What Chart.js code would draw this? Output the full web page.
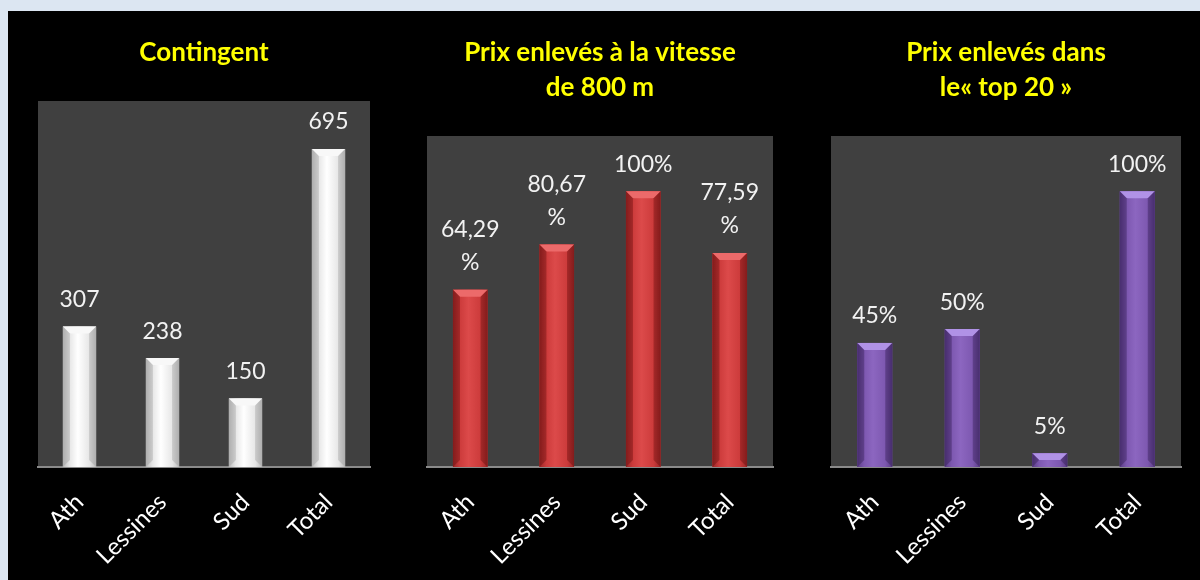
<!DOCTYPE html>
<html>
<head>
<meta charset="utf-8">
<script src="https://cdn.jsdelivr.net/npm/chart.js@4/dist/chart.umd.min.js"></script>
<style>
  html, body { margin: 0; padding: 0; }
  body { width: 1200px; height: 580px; background: #dce6f2; position: relative; overflow: hidden; }
  #fond { position: absolute; left: 8px; top: 11px; width: 1192px; height: 569px; background: #000; }
  .panneau { position: absolute; top: 11px; height: 569px; }
</style>
</head>
<body>
<div id="fond"></div>
<div class="panneau" style="left:8px;width:395px"><canvas id="graphContingent"></canvas></div>
<div class="panneau" style="left:403px;width:397px"><canvas id="graphVitesse"></canvas></div>
<div class="panneau" style="left:800px;width:400px"><canvas id="graphTop20"></canvas></div>
<script>
// Données
const categories = ['Ath', 'Lessines', 'Sud', 'Total'];
const contingent = [307, 238, 150, 695];
const vitesse800 = [64.29, 80.67, 100, 77.59];
const top20 = [45, 50, 5, 100];

const titreContingent = ['Contingent'];
const titreVitesse = ['Prix enlevés à la vitesse', 'de 800 m'];
const titreTop20 = ['Prix enlevés dans', 'le« top 20 »'];

const POLICE = 'Lato, "Open Sans", sans-serif';

// Formatage des étiquettes (virgule décimale, retour à la ligne comme dans Excel)
function formatNombre(v) {
    return [String(v)];
}
function formatPourcent(v) {
    if (Number.isInteger(v)) return [v + '%'];
    return [v.toFixed(2).replace('.', ','), '%'];
}

// Fond gris de la zone de tracé
const fondZone = {
    id: 'fondZone',
    beforeDraw(chart) {
        const { ctx, chartArea: a } = chart;
        ctx.save();
        ctx.fillStyle = '#404040';
        ctx.fillRect(a.left, a.top, a.right - a.left, a.bottom - a.top);
        ctx.restore();
    }
};

// Effet biseau sur les barres + étiquettes de valeurs
const biseau = {
    id: 'biseau',
    afterDatasetsDraw(chart) {
        const ctx = chart.ctx;
        const ds = chart.data.datasets[0];
        const c = ds.teintes;
        const meta = chart.getDatasetMeta(0);
        meta.data.forEach((bar, i) => {
            const w = bar.width;
            const g = bar.x - w / 2, d = bar.x + w / 2;
            const haut = bar.y, bas = bar.base;
            const b = Math.min(7, (bas - haut) / 2);
            ctx.save();
            const grad = ctx.createLinearGradient(g, 0, d, 0);
            grad.addColorStop(0, c.bord);
            grad.addColorStop(0.2, c.base);
            grad.addColorStop(0.45, c.clair);
            grad.addColorStop(0.8, c.base);
            grad.addColorStop(1, c.bord);
            ctx.fillStyle = grad;
            ctx.fillRect(g, haut, w, bas - haut);
            // biseau du haut
            ctx.fillStyle = c.dessus;
            ctx.beginPath();
            ctx.moveTo(g, haut); ctx.lineTo(d, haut);
            ctx.lineTo(d - b, haut + b); ctx.lineTo(g + b, haut + b);
            ctx.closePath(); ctx.fill();
            // côtés
            ctx.fillStyle = c.cote;
            ctx.beginPath();
            ctx.moveTo(g, haut); ctx.lineTo(g + b, haut + b);
            ctx.lineTo(g + b, bas - b); ctx.lineTo(g, bas);
            ctx.closePath(); ctx.fill();
            ctx.beginPath();
            ctx.moveTo(d, haut); ctx.lineTo(d - b, haut + b);
            ctx.lineTo(d - b, bas - b); ctx.lineTo(d, bas);
            ctx.closePath(); ctx.fill();
            // étiquette
            const lignes = ds.formateur(ds.data[i]);
            ctx.fillStyle = '#f2f2f2';
            ctx.font = '23px ' + POLICE;
            ctx.textAlign = 'center';
            ctx.textBaseline = 'middle';
            lignes.forEach((t, k) => {
                const y = haut - 27 - (lignes.length - 1 - k) * 33;
                ctx.fillText(t, bar.x, y);
            });
            ctx.restore();
        });
    }
};

function creerGraphique(id, titre, valeurs, teintes, yMax, formateur, pad) {
    const ctx = document.getElementById(id).getContext('2d');
    return new Chart(ctx, {
        type: 'bar',
        data: {
            labels: categories,
            datasets: [{
                data: valeurs,
                backgroundColor: teintes.base,
                borderWidth: 0,
                barPercentage: 0.4,
                categoryPercentage: 1,
                teintes: teintes,
                formateur: formateur
            }]
        },
        options: {
            responsive: true,
            maintainAspectRatio: false,
            animation: false,
            layout: { padding: { left: pad[0], right: pad[1], top: 24, bottom: 0 } },
            plugins: {
                legend: { display: false },
                tooltip: { enabled: false },
                title: {
                    display: true,
                    text: titre,
                    color: '#ffff00',
                    font: { family: POLICE, size: 26, weight: 'bold', lineHeight: '35px' },
                    padding: { top: 0, bottom: 31 }
                }
            },
            scales: {
                x: {
                    grid: { display: false, drawTicks: false },
                    border: { display: true, color: '#8a8a8a', width: 2 },
                    ticks: {
                        color: '#ffffff',
                        font: { family: POLICE, size: 24 },
                        maxRotation: 45,
                        minRotation: 45,
                        padding: 21
                    },
                    afterFit(scale) { scale.height = 113; }
                },
                y: {
                    display: false,
                    min: 0,
                    max: yMax
                }
            }
        },
        plugins: [fondZone, biseau]
    });
}

creerGraphique('graphContingent', titreContingent, contingent,
    { base: '#e6e6e6', bord: '#bdbdbd', clair: '#ffffff', dessus: '#f8f8f8', cote: 'rgba(150,150,150,0.35)' },
    800, formatNombre, [30, 33]);

creerGraphique('graphVitesse', titreVitesse, vitesse800,
    { base: '#cc3b3b', bord: '#9c2626', clair: '#dc4a4a', dessus: '#ec6a6a', cote: 'rgba(90,10,10,0.35)' },
    120, formatPourcent, [24, 27]);

creerGraphique('graphTop20', titreTop20, top20,
    { base: '#7d58b0', bord: '#5a3c86', clair: '#8c66c0', dessus: '#b092e6', cote: 'rgba(40,20,70,0.35)' },
    120, formatPourcent, [31, 19]);
</script>
</body>
</html>
